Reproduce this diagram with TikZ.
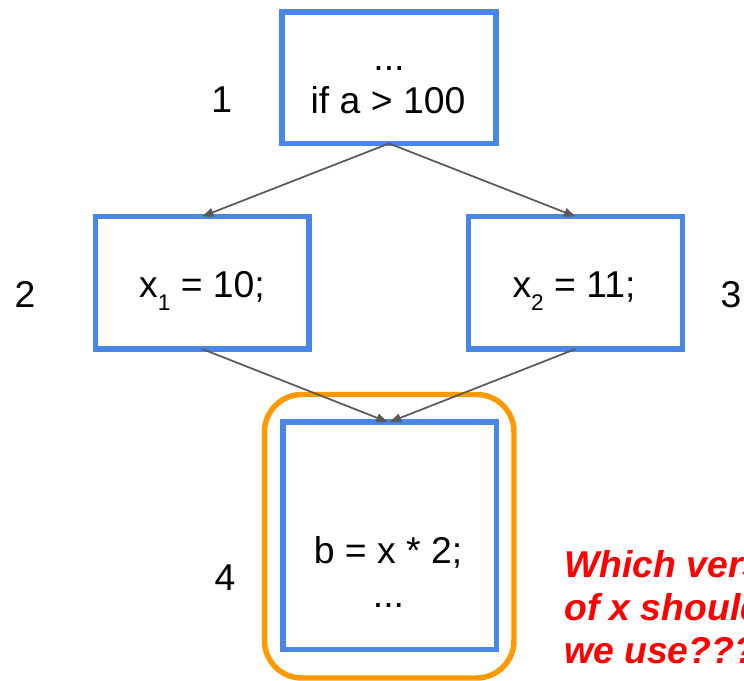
\documentclass[tikz,border=0pt]{standalone}
\usepackage{fontspec}
\setmainfont{Liberation Sans}
\usetikzlibrary{arrows.meta}
\definecolor{bblue}{HTML}{4A86E8}
\definecolor{borange}{HTML}{FF9900}
\definecolor{agray}{HTML}{595959}
\definecolor{qred}{HTML}{FF0000}
\tikzset{
  blockbox/.style={draw=bblue, line width=4.1pt, rectangle, inner sep=0pt, outer sep=0pt, minimum width=160.3pt},
  selbox/.style={draw=borange, line width=4.1pt, rectangle, rounded corners=28pt, inner sep=0pt, outer sep=0pt},
  txt/.style={anchor=base, inner sep=0pt, font=\fontsize{28}{34}\selectfont},
  redtxt/.style={anchor=base west, inner sep=0pt, text=qred, font=\fontsize{28}{33}\selectfont\bfseries\itshape},
  flow/.style={draw=agray, line width=1.3pt, -{Triangle[length=8.5pt,width=6.5pt]}}
}
\newcommand{\subidx}[1]{\raisebox{-10pt}{\fontsize{17}{20}\selectfont #1}}
\begin{document}
\begin{tikzpicture}[x=0.75pt,y=-0.75pt]
\useasboundingbox (0,0) rectangle (744,681);
% selection outline
\node[selbox, minimum width=187.1pt, minimum height=212.6pt] (sel) at (389.25,536.25) {};
% blocks
\node[blockbox, minimum height=98.6pt] (b1) at (389,77.75) {};
\node[blockbox, minimum height=99.4pt] (b2) at (202.25,282.75) {};
\node[blockbox, minimum height=99.4pt] (b3) at (575.5,282.75) {};
\node[blockbox, minimum height=170.6pt] (b4) at (389.75,535.75) {};
% texts
\node[txt] (t1a) at (389,70.5) {...};
\node[txt] (t1b) at (388,113.3) {if a > 100};
\node[txt] (t2) at (202,297.2) {x\subidx{1} = 10;};
\node[txt] (t3) at (574,297.2) {x\subidx{2} = 11;};
\node[txt] (t4a) at (388,563.8) {b = x * 2;};
\node[txt] (t4b) at (388.5,607.5) {...};
% labels
\node[txt] (l1) at (221.7,112.5) {1};
\node[txt] (l2) at (25,308) {2};
\node[txt] (l3) at (731,308) {3};
\node[txt] (l4) at (225,590.7) {4};
% question
\node[redtxt] (q1) at (564,577) {Which version};
\node[redtxt] (q2) at (564,620) {of x should};
\node[redtxt] (q3) at (564,663) {we use???};
% connectors
\draw[flow] (b1.south) -- (b2.north);
\draw[flow] (b1.south) -- (b3.north);
\draw[flow] (b2.south) -- ([xshift=-1.5pt]b4.north);
\draw[flow] (b3.south) -- (b4.north);
\end{tikzpicture}
\end{document}
